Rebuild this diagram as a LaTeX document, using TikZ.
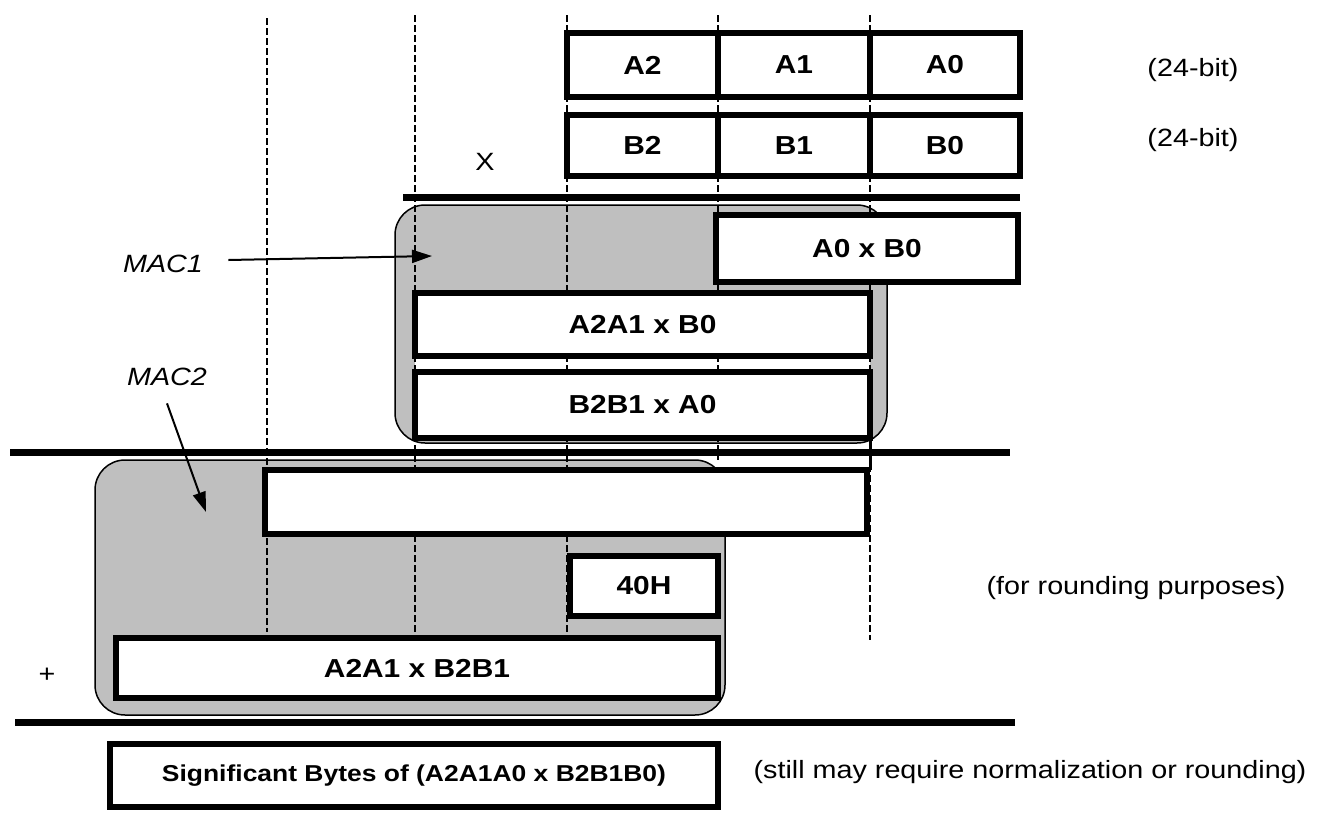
\documentclass[tikz,border=0pt]{standalone}
\usepackage{fontspec}
\setmainfont{Liberation Sans}[FakeStretch=1.15]
\usetikzlibrary{arrows.meta}
\begin{document}
\begin{tikzpicture}[x=1pt,y=-1pt,
  cell/.style={draw,line width=6pt,fill=white,inner sep=0pt,font=\bfseries\fontsize{26}{28}\selectfont},
  mac/.style={draw,line width=1.5pt,fill=gray!50,rounded corners=30pt},
  vdash/.style={line width=2.2pt,dash pattern=on 7pt off 3pt},
  rulerline/.style={line width=7pt},
  note/.style={font=\fontsize{25}{28}\selectfont},
  maclabel/.style={font=\itshape\fontsize{25}{28}\selectfont},
  arr/.style={line width=2pt,-{Triangle[length=20pt,width=13pt]}}
]
\useasboundingbox (0,0) rectangle (1325,814);
% MAC regions
\draw[mac] (395,205) rectangle (887,443);
\draw[mac] (95,460) rectangle (725,715);
\fill[white] (415,359) rectangle (870,369);
% dashed column guides
\draw[vdash] (267,18) -- (267,632);
\draw[vdash] (415,15) -- (415,632);
\draw[vdash] (567,15) -- (567,632);
\draw[vdash] (718,15) -- (718,460);
\draw[vdash] (870,15) -- (870,640);
\draw[line width=3pt] (870,441) -- (870,470);
% rules
\draw[rulerline] (403,197) -- (1020,197);
\draw[rulerline] (10,452) -- (1010,452);
\draw[rulerline] (15,722) -- (1015,722);
% operand cells
\node[cell,minimum width=151,minimum height=64] (a2) at (642.5,65) {A2};
\node[cell,minimum width=152,minimum height=64] (a1) at (794,65) {A1};
\node[cell,minimum width=150,minimum height=64] (a0) at (945,65) {A0};
\node[cell,minimum width=151,minimum height=61] (b2) at (642.5,145.5) {B2};
\node[cell,minimum width=152,minimum height=61] (b1) at (794,145.5) {B1};
\node[cell,minimum width=150,minimum height=61] (b0) at (945,145.5) {B0};
% partial products
\node[cell,minimum width=302,minimum height=67] (p00) at (867,248.5) {A0 x B0};
\node[cell,minimum width=455,minimum height=63] (p10) at (642.5,324.5) {A2A1 x B0};
\node[cell,minimum width=455,minimum height=66] (p01) at (642.5,405) {B2B1 x A0};
\node[cell,minimum width=602,minimum height=64] (acc) at (566,502) {};
\node[cell,minimum width=148,minimum height=60] (rnd) at (644,586) {40H};
\node[cell,minimum width=602,minimum height=60] (p11) at (417,668) {A2A1 x B2B1};
\node[cell,minimum width=608,minimum height=63,font=\bfseries\fontsize{23}{26}\selectfont] (res) at (414,775.5) {Significant Bytes of (A2A1A0 x B2B1B0)};
% notes
\node[note] (na) at (1193,70) {(24-bit)};
\node[note] (nb) at (1193,140) {(24-bit)};
\node[note] (nx) at (485,162) {X};
\node[note] (plus) at (47,675) {+};
\node[note] (nr) at (1136,588) {(for rounding purposes)};
\node[note] (ns) at (1030,772) {(still may require normalization or rounding)};
% MAC labels and arrows
\node[maclabel] (m1) at (163,264) {MAC1};
\node[maclabel] (m2) at (167,377) {MAC2};
\coordinate (m1tip) at (432,256);
\coordinate (m2tip) at (206,512);
\draw[arr] ([xshift=22pt,yshift=4pt]m1.east) -- (m1tip);
\draw[arr] ([yshift=-14pt]m2.south) -- (m2tip);
\end{tikzpicture}
\end{document}
